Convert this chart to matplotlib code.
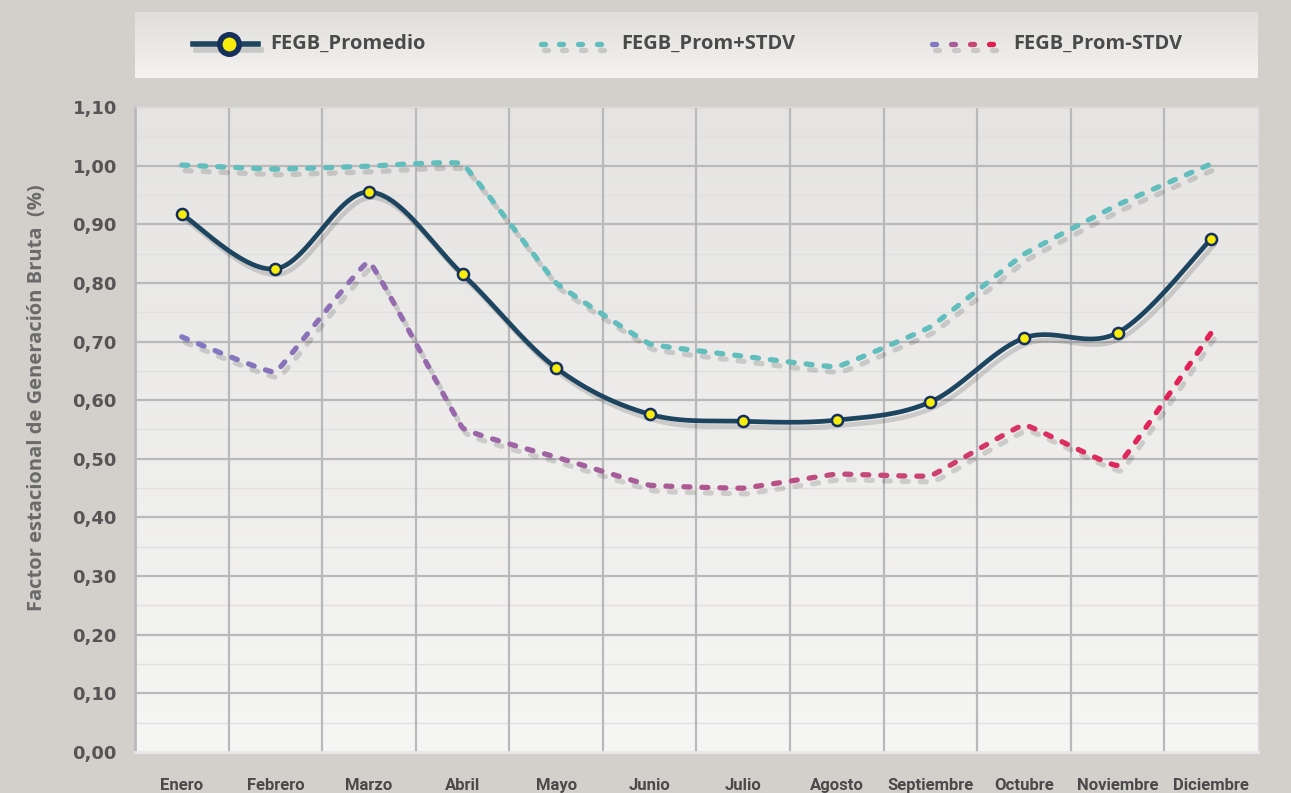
import numpy as np
import matplotlib
matplotlib.use("Agg")
import matplotlib.pyplot as plt
from matplotlib.collections import LineCollection
from matplotlib.colors import LinearSegmentedColormap
import matplotlib.patheffects as pe

# ---------------- data ----------------
meses = ["Enero", "Febrero", "Marzo", "Abril", "Mayo", "Junio", "Julio",
         "Agosto", "Septiembre", "Octubre", "Noviembre", "Diciembre"]
promedio = [0.917, 0.824, 0.955, 0.815, 0.655, 0.576, 0.564, 0.566, 0.597, 0.706, 0.715, 0.875]
prom_mas = [1.001, 0.994, 0.999, 1.003, 0.800, 0.696, 0.675, 0.657, 0.725, 0.849, 0.933, 1.003]
prom_menos = [0.708, 0.648, 0.836, 0.553, 0.503, 0.455, 0.450, 0.474, 0.471, 0.558, 0.489, 0.715]
ytick_vals = [0.0, 0.1, 0.2, 0.3, 0.4, 0.5, 0.6, 0.7, 0.8, 0.9, 1.0, 1.1]
ytick_labels = ["0,00", "0,10", "0,20", "0,30", "0,40", "0,50", "0,60", "0,70",
                "0,80", "0,90", "1,00", "1,10"]
serie_nombres = ["FEGB_Promedio", "FEGB_Prom+STDV", "FEGB_Prom-STDV"]
ylabel = "Factor estacional de Generación Bruta  (%)"

BG = "#d3d0cb"
TXT = "#555555"


def smooth(x, y, k=1 / 6.0, n=40):
    """Bezier smoothing through the points (like spreadsheet smoothed lines)."""
    P = np.column_stack([np.asarray(x, float), np.asarray(y, float)])
    P = np.vstack([P[0], P, P[-1]])
    out = []
    t = np.linspace(0, 1, n)[:, None]
    for i in range(1, len(P) - 2):
        p0, p1, p2, p3 = P[i - 1], P[i], P[i + 1], P[i + 2]
        c1 = p1 + (p2 - p0) * k
        c2 = p2 - (p3 - p1) * k
        seg = ((1 - t) ** 3) * p1 + 3 * ((1 - t) ** 2) * t * c1 + 3 * (1 - t) * t ** 2 * c2 + t ** 3 * p2
        out.append(seg if i == 1 else seg[1:])
    s = np.vstack(out)
    return s[:, 0], s[:, 1]


W, H = 1291, 793
fig = plt.figure(figsize=(W / 100, H / 100), dpi=100, facecolor=BG)

L, R, T, B = 135, 1258, 107, 752
ax = fig.add_axes([L / W, 1 - B / H, (R - L) / W, (B - T) / H])
ax.set_facecolor("none")
ax.set_xlim(-0.5, 11.5)
ax.set_ylim(0, 1.10)

grad = np.linspace(0, 1, 256)[:, None]
bgcmap = LinearSegmentedColormap.from_list("bg", ["#f6f6f5", "#e5e4e2"])
ax.imshow(grad, extent=[-0.5, 11.5, 0, 1.10], aspect="auto", origin="lower",
          cmap=bgcmap, zorder=0)

for v in np.arange(0.05, 1.10, 0.1):
    ax.axhline(v, color="#e0e0e0", lw=1.0, zorder=1)
for v in ytick_vals[1:-1]:
    ax.axhline(v, color="#b9b9bb", lw=1.6, zorder=1)
ax.axhline(1.10, color="#c4c4c6", lw=1.0, zorder=1)
for k in range(1, 12):
    ax.axvline(k - 0.5, color="#b9b9bb", lw=1.6, zorder=1)

for s in ["top", "right"]:
    ax.spines[s].set_color("#dcdcdc"); ax.spines[s].set_linewidth(1.0)
ax.spines["left"].set_color("#b9b9bb"); ax.spines["left"].set_linewidth(2)
ax.spines["bottom"].set_color("#e8e8e8"); ax.spines["bottom"].set_linewidth(2)

x = np.arange(len(meses))
shadow = [pe.SimpleLineShadow(offset=(2.5, -4), shadow_color="#000000", alpha=0.14),
          pe.Normal()]


def dashed_gradient(xs, ys, cmap, lw=3.8, dash=6.0, gap=12.0):
    """Split the path into dashes (in pixel arc length); each dash gets its colour."""
    disp = ax.transData.transform(np.column_stack([xs, ys]))
    dl = np.hypot(np.diff(disp[:, 0]), np.diff(disp[:, 1]))
    arc = np.concatenate([[0], np.cumsum(dl)])
    total = arc[-1]
    dashes, cvals = [], []
    s = 0.0
    while s < total:
        e = min(s + dash, total)
        inner = (arc > s) & (arc < e)
        px = np.concatenate([[np.interp(s, arc, xs)], xs[inner], [np.interp(e, arc, xs)]])
        py = np.concatenate([[np.interp(s, arc, ys)], ys[inner], [np.interp(e, arc, ys)]])
        dashes.append(np.column_stack([px, py]))
        cvals.append(px.mean() / 11.0)
        s += dash + gap
    lc = LineCollection(dashes, cmap=cmap, linewidths=lw, zorder=3,
                        capstyle="round", joinstyle="round", path_effects=shadow)
    lc.set_array(np.array(cvals))
    lc.set_clim(0, 1)
    ax.add_collection(lc)


# + STDV
xs, ys = smooth(x, prom_mas, k=0.03, n=200)
dashed_gradient(xs, ys, LinearSegmentedColormap.from_list("t", ["#62bdbd", "#62bdbd"]))

# - STDV with gradient
gcmap = LinearSegmentedColormap.from_list(
    "g", [(0, "#8079c2"), (0.25, "#9868ab"), (0.45, "#a85d98"), (0.7, "#c94574"),
          (0.85, "#dc2e5e"), (1, "#e21f55")])
xs, ys = smooth(x, prom_menos, k=0.03, n=200)
dashed_gradient(xs, ys, gcmap)

# Promedio
xs, ys = smooth(x, promedio, k=1 / 6.0, n=60)
ax.plot(xs, ys, color="#1e4560", lw=3.4, zorder=4, solid_capstyle="round",
        path_effects=shadow)
ax.plot(x, promedio, linestyle="none", marker="o", markersize=8,
        markerfacecolor="#f7ec0c", markeredgecolor="#16305c", markeredgewidth=1.8,
        zorder=5)

ax.set_yticks(ytick_vals)
ax.set_yticklabels(ytick_labels, fontsize=13, fontweight="bold", color=TXT,
                   family="DejaVu Sans")
ax.set_xticks(x)
ax.set_xticklabels(meses, fontsize=12, fontweight="bold", color="#4a4a4a",
                   family="Roboto")
ax.tick_params(axis="y", length=0, pad=13)
ax.tick_params(axis="x", length=0, pad=19)
ax.set_ylabel(ylabel, fontsize=14.5, color="#6a6a6a", family="Open Sans",
              fontweight="bold")
ax.yaxis.set_label_coords(-88 / (R - L), 0.55)

# ---------------- legend box ----------------
lx0, lx1, ly0, ly1 = 135, 1258, 12, 78
lax = fig.add_axes([lx0 / W, 1 - ly1 / H, (lx1 - lx0) / W, (ly1 - ly0) / H])
lax.set_xlim(lx0, lx1)
lax.set_ylim(ly1, ly0)
lax.axis("off")
lgrad = LinearSegmentedColormap.from_list("lg", ["#dfdedb", "#f4f3f1"])
lax.imshow(np.linspace(0, 1, 128)[:, None], extent=[lx0, lx1, ly1, ly0],
           aspect="auto", cmap=lgrad, origin="upper", zorder=0)
yl = 44
lax.plot([193, 258], [yl, yl], color="#1e4560", lw=4, zorder=2,
         path_effects=shadow)
lax.plot([229], [yl], marker="o", markersize=14, markerfacecolor="#f7ec0c",
         markeredgecolor="#16305c", markeredgewidth=4, zorder=3)
lax.text(270, yl, serie_nombres[0], fontsize=14.5, fontweight="bold",
         color="#4a4a4a", va="center", family="Open Sans")
for xx in [543, 561, 580, 599]:
    lax.plot([xx - 2, xx + 2], [yl, yl], color="#62bdbd", lw=3.8,
             solid_capstyle="round", zorder=2, path_effects=shadow)
lax.text(621, yl, serie_nombres[1], fontsize=14.5, fontweight="bold",
         color="#4a4a4a", va="center", family="Open Sans")
for xx, c in zip([934, 953, 972, 991], ["#8079c2", "#a85d98", "#c94574", "#e21f55"]):
    lax.plot([xx - 2, xx + 2], [yl, yl], color=c, lw=3.8,
             solid_capstyle="round", zorder=2, path_effects=shadow)
lax.text(1013, yl, serie_nombres[2], fontsize=14.5, fontweight="bold",
         color="#4a4a4a", va="center", family="Open Sans")

fig.savefig("out.png", dpi=100, facecolor=BG)
